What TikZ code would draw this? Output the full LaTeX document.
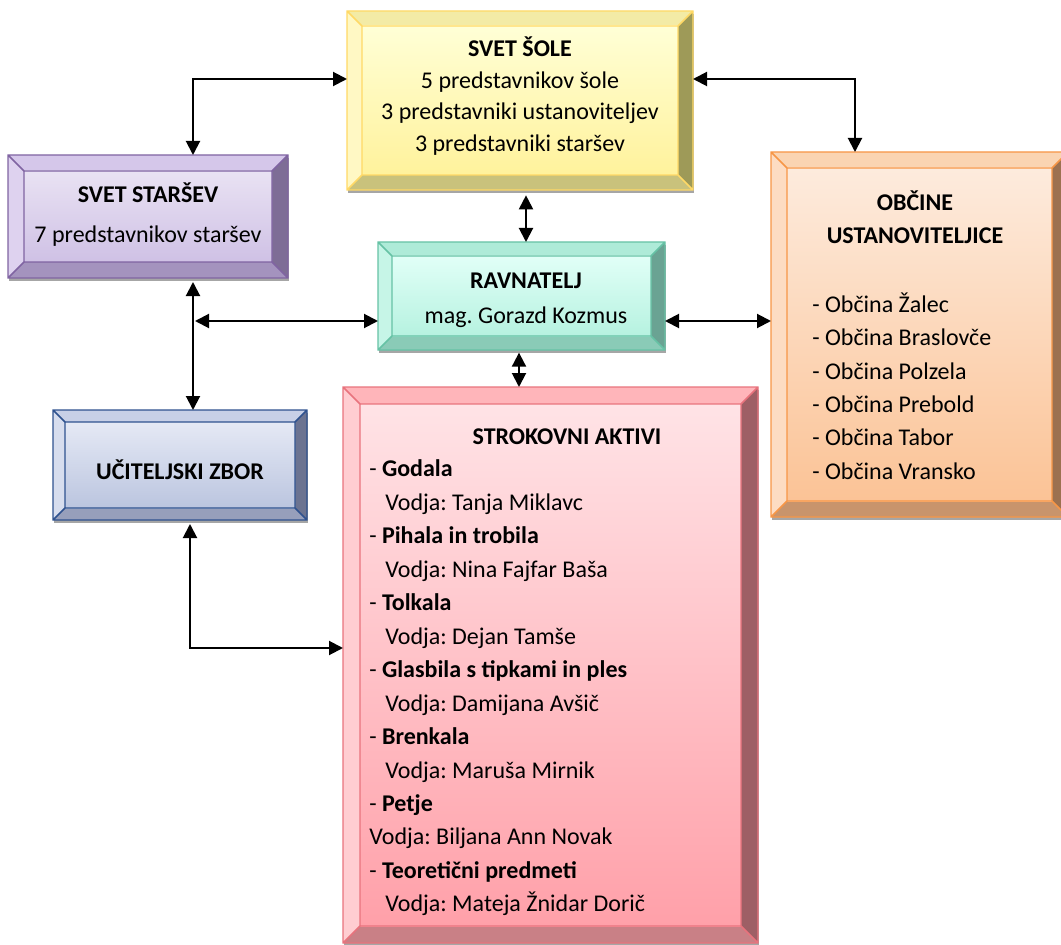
\documentclass[tikz,border=0pt]{standalone}
\usepackage{fontspec}
\setmainfont{Carlito}
\frenchspacing
\usetikzlibrary{arrows.meta,calc}
% colours: F face-top, G face-bottom, T top bevel, L left, R right, B bottom, O outline
\definecolor{yelF}{HTML}{FFFFD6}\definecolor{yelG}{HTML}{FFF29C}
\definecolor{yelT}{HTML}{F3EBA6}\definecolor{yelL}{HTML}{FFF8C4}
\definecolor{yelR}{HTML}{9E9A58}\definecolor{yelB}{HTML}{C9C27C}\definecolor{yelO}{HTML}{FFD966}
\definecolor{purF}{HTML}{E9E2F3}\definecolor{purG}{HTML}{CFC1E5}
\definecolor{purT}{HTML}{D5C7EA}\definecolor{purL}{HTML}{DED2EF}
\definecolor{purR}{HTML}{7E6D96}\definecolor{purB}{HTML}{A493BE}\definecolor{purO}{HTML}{8064A2}
\definecolor{teaF}{HTML}{E1FFF7}\definecolor{teaG}{HTML}{B6F2E0}
\definecolor{teaT}{HTML}{AEEBD8}\definecolor{teaL}{HTML}{C6F5E7}
\definecolor{teaR}{HTML}{6AA393}\definecolor{teaB}{HTML}{8ACBB7}\definecolor{teaO}{HTML}{66C2A5}
\definecolor{oraF}{HTML}{FDEBDD}\definecolor{oraG}{HTML}{FBC396}
\definecolor{oraT}{HTML}{FAD4B2}\definecolor{oraL}{HTML}{FDDCC2}
\definecolor{oraR}{HTML}{9C7150}\definecolor{oraB}{HTML}{C8946C}\definecolor{oraO}{HTML}{F79646}
\definecolor{bluF}{HTML}{E5E9F5}\definecolor{bluG}{HTML}{BBC5DF}
\definecolor{bluT}{HTML}{C8D0E7}\definecolor{bluL}{HTML}{D7DDEE}
\definecolor{bluR}{HTML}{6B7391}\definecolor{bluB}{HTML}{979FBB}\definecolor{bluO}{HTML}{2F528F}
\definecolor{pnkF}{HTML}{FFE3E6}\definecolor{pnkG}{HTML}{FFA0A9}
\definecolor{pnkT}{HTML}{FFB5BA}\definecolor{pnkL}{HTML}{FFCDD1}
\definecolor{pnkR}{HTML}{9E5F65}\definecolor{pnkB}{HTML}{C98086}\definecolor{pnkO}{HTML}{E8737D}
\definecolor{shadowgray}{HTML}{A6A6A6}
% #1 name, #2 x1, #3 y1, #4 x2, #5 y2, #6 bevel, #7 colour prefix
\newcommand\bevelbox[7]{%
  \fill[shadowgray] (#2+1,#3+3) rectangle (#4+1,#5+3);
  \fill[#7T] (#2,#3) -- (#4,#3) -- (#4-#6,#3+#6) -- (#2+#6,#3+#6) -- cycle;
  \fill[#7L] (#2,#3) -- (#2+#6,#3+#6) -- (#2+#6,#5-#6) -- (#2,#5) -- cycle;
  \fill[#7R] (#4,#3) -- (#4,#5) -- (#4-#6,#5-#6) -- (#4-#6,#3+#6) -- cycle;
  \fill[#7B] (#2,#5) -- (#4,#5) -- (#4-#6,#5-#6) -- (#2+#6,#5-#6) -- cycle;
  \shade[top color=#7F, bottom color=#7G] (#2+#6,#3+#6) rectangle (#4-#6,#5-#6);
  \draw[#7O, line width=1.1pt]
    (#2,#3) rectangle (#4,#5)
    (#2+#6,#3+#6) rectangle (#4-#6,#5-#6)
    (#2,#3) -- (#2+#6,#3+#6) (#4,#3) -- (#4-#6,#3+#6)
    (#2,#5) -- (#2+#6,#5-#6) (#4,#5) -- (#4-#6,#5-#6);
  \node[inner sep=0pt, outer sep=0pt, minimum width={(#4-#2)*0.75pt},
        minimum height={(#5-#3)*0.75pt}, anchor=north west] (#1) at (#2,#3) {};
}
\tikzset{
  txt/.style={inner sep=0pt, font=\fontsize{18pt}{25pt}\selectfont},
  arr/.style={line width=1.5pt, {Triangle[length=10.5pt,width=10.5pt]}-{Triangle[length=10.5pt,width=10.5pt]}},
}
\newcommand\ind{\hspace*{12pt}}
\begin{document}
\begin{tikzpicture}[x=0.75pt,y=-0.75pt]
\useasboundingbox (0,0) rectangle (1061,945);
\clip (0,0) rectangle (1061,945);
\bevelbox{sole}{347}{11}{693}{190}{15}{yel}
\bevelbox{starsev}{8}{155}{288}{278}{16}{pur}
\bevelbox{ravn}{378}{242}{665}{350}{14}{tea}
\bevelbox{obcine}{771}{152}{1068}{517}{16}{ora}
\bevelbox{ucit}{53}{410}{307}{520}{12}{blu}
\bevelbox{strok}{343}{387}{758}{943}{17}{pnk}

\node[txt, align=center, font=\fontsize{18pt}{23.75pt}\selectfont] (soleT) at (520,96)
  {\textbf{SVET ŠOLE}\\5 predstavnikov šole\\3 predstavniki ustanoviteljev\\3 predstavniki staršev};
\node[txt, align=center, font=\fontsize{18pt}{30pt}\selectfont] (starsevT) at (148,215)
  {\textbf{SVET STARŠEV}\\7 predstavnikov staršev};
\node[txt, align=center, font=\fontsize{18pt}{26.25pt}\selectfont] (ravnT) at (526,300)
  {\textbf{RAVNATELJ}\\mag. Gorazd Kozmus};
\node[txt, align=center, font=\fontsize{18pt}{24.75pt}\selectfont] (obcineT) at (915,217)
  {\textbf{OBČINE}\\\textbf{USTANOVITELJICE}};
\node[txt, align=left, anchor=west, font=\fontsize{18pt}{25.05pt}\selectfont] (obcineL) at (812,386)
  {- Občina Žalec\\- Občina Braslovče\\- Občina Polzela\\- Občina Prebold\\- Občina Tabor\\- Občina Vransko};
\node[txt] (ucitT) at (180,470) {\textbf{UČITELJSKI ZBOR}};
\node[txt] (strokT) at (567,437) {\textbf{STROKOVNI AKTIVI}};
\node[txt, align=left, anchor=west, font=\fontsize{18pt}{25.1pt}\selectfont] (strokL) at (369,688)
  {- \textbf{Godala}\\
   \ind Vodja: Tanja Miklavc\\
   - \textbf{Pihala in trobila}\\
   \ind Vodja: Nina Fajfar Baša\\
   - \textbf{Tolkala}\\
   \ind Vodja: Dejan Tamše\\
   - \textbf{Glasbila s tipkami in ples}\\
   \ind Vodja: Damijana Avšič\\
   - \textbf{Brenkala}\\
   \ind Vodja: Maruša Mirnik\\
   - \textbf{Petje}\\
   Vodja: Biljana Ann Novak\\
   - \textbf{Teoretični predmeti}\\
   \ind Vodja: Mateja Žnidar Dorič};

\coordinate (k1) at (193,79);
\coordinate (k2) at (855,79);
\coordinate (k3) at (526,0);
\coordinate (k5) at (195,321);
\coordinate (k7) at (519,0);
\coordinate (k8) at (190,648);
\draw[arr] (sole.west |- k1) -- (k1) -- (starsev.north -| k1);
\draw[arr] (sole.east |- k2) -- (k2) -- (obcine.north -| k2);
\draw[arr, shorten <=4pt] (sole.south -| k3) -- (ravn.north -| k3);
\draw[arr, shorten <=3pt] (starsev.south -| k1) -- (ucit.north -| k1);
\draw[arr] (k5) -- (ravn.west |- k5);
\draw[arr] (ravn.east |- k5) -- (obcine.west |- k5);
\draw[arr, shorten <=2pt] (ravn.south -| k7) -- (strok.north -| k7);
\draw[arr, shorten <=3pt] (ucit.south -| k8) -- (k8) -- (strok.west |- k8);
\end{tikzpicture}
\end{document}
